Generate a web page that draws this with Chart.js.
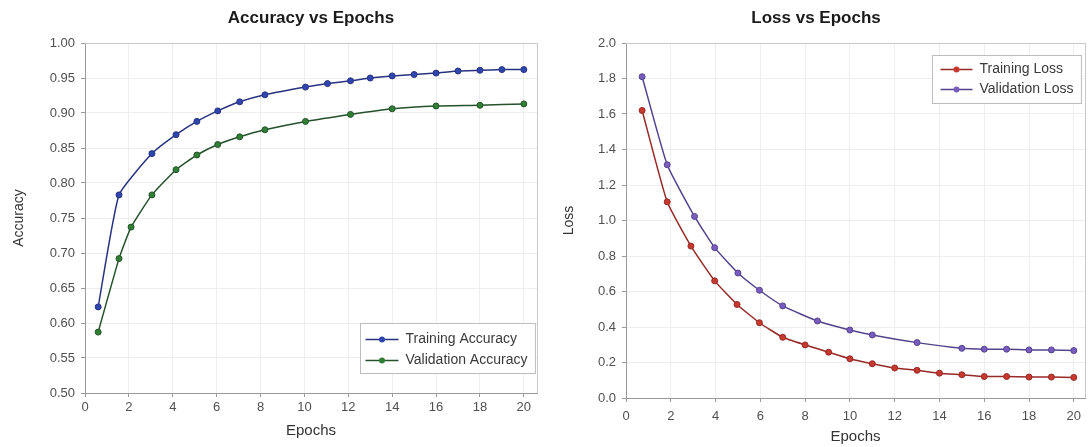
<!DOCTYPE html>
<html>
<head>
<meta charset="utf-8">
<script src="https://cdn.jsdelivr.net/npm/chart.js@4.4.1/dist/chart.umd.min.js"></script>
<style>
  html, body { margin: 0; padding: 0; background: #ffffff; }
  #wrap { display: flex; width: 1089px; height: 447px; }
  canvas { display: block; }
</style>
</head>
<body>
<div id="wrap">
  <canvas id="acc" width="545" height="447"></canvas>
  <canvas id="loss" width="544" height="447"></canvas>
</div>
<script>
// ---------- data ----------
const epochTicks = [0, 2, 4, 6, 8, 10, 12, 14, 16, 18, 20];
const accTicks = [0.50, 0.55, 0.60, 0.65, 0.70, 0.75, 0.80, 0.85, 0.90, 0.95, 1.00];
const lossTicks = [0.0, 0.2, 0.4, 0.6, 0.8, 1.0, 1.2, 1.4, 1.6, 1.8, 2.0];

const trainAccEpochs = [0.6, 1.55, 3.05, 4.15, 5.1, 6.05, 7.05, 8.2, 10.05, 11.05, 12.1, 13.0, 14.0, 15.0, 16.0, 17.0, 18.0, 19.0, 20.0];
const trainAcc       = [0.623, 0.783, 0.842, 0.869, 0.888, 0.903, 0.916, 0.926, 0.937, 0.942, 0.946, 0.950, 0.953, 0.955, 0.957, 0.960, 0.961, 0.962, 0.962];

const valAccEpochs = [0.6, 1.55, 2.1, 3.05, 4.15, 5.1, 6.05, 7.05, 8.2, 10.05, 12.1, 14.0, 16.0, 18.0, 20.0];
const valAcc       = [0.587, 0.692, 0.737, 0.783, 0.819, 0.840, 0.855, 0.866, 0.876, 0.888, 0.898, 0.906, 0.910, 0.911, 0.913];

const trainLossEpochs = [0.72, 1.84, 2.9, 3.96, 4.96, 5.96, 7.0, 8.0, 9.05, 10.0, 11.0, 12.0, 13.0, 14.0, 15.0, 16.0, 17.0, 18.0, 19.0, 20.0];
const trainLoss       = [1.62, 1.105, 0.856, 0.660, 0.527, 0.424, 0.342, 0.299, 0.258, 0.221, 0.193, 0.169, 0.156, 0.140, 0.131, 0.121, 0.121, 0.118, 0.118, 0.116];

const valLossEpochs = [0.72, 1.84, 3.06, 3.96, 5.0, 5.96, 7.0, 8.55, 10.0, 11.0, 13.0, 15.0, 16.0, 17.0, 18.0, 19.0, 20.0];
const valLoss       = [1.81, 1.314, 1.023, 0.847, 0.704, 0.607, 0.519, 0.434, 0.383, 0.355, 0.312, 0.280, 0.275, 0.275, 0.271, 0.271, 0.267];

// ---------- helpers ----------
const FONT = '"Liberation Sans", Arial, Helvetica, sans-serif';
const pts = (xs, ys) => xs.map((x, i) => ({ x: x, y: ys[i] }));

function plotBox() {
  return {
    id: 'plotBox',
    beforeDatasetsDraw(chart) {
      const a = chart.chartArea, ctx = chart.ctx;
      ctx.save();
      ctx.strokeStyle = '#c9c9c9';
      ctx.lineWidth = 1;
      ctx.beginPath();
      ctx.moveTo(a.left, a.top + 0.5);
      ctx.lineTo(a.right + 0.5, a.top + 0.5);
      ctx.lineTo(a.right + 0.5, a.bottom);
      ctx.stroke();
      ctx.restore();
    }
  };
}

function insideLegend(cfg) {
  return {
    id: 'insideLegend',
    afterDraw(chart) {
      const ctx = chart.ctx, a = chart.chartArea;
      const items = chart.data.datasets;
      ctx.save();
      ctx.font = '14px ' + FONT;
      const tw = Math.max(...items.map(d => ctx.measureText(d.label).width));
      const w = cfg.padL + cfg.lineLen + cfg.gap + tw + cfg.padR;
      const h = cfg.padT + (items.length - 1) * cfg.rowH + cfg.padB;
      const x = Math.round(a.right - cfg.right - w) + 0.5;
      const y = Math.round(cfg.corner === 'top' ? a.top + cfg.off : a.bottom - cfg.off - h) + 0.5;
      ctx.fillStyle = '#ffffff';
      ctx.fillRect(x, y, w, h);
      ctx.strokeStyle = '#bdbdbd';
      ctx.lineWidth = 1;
      ctx.strokeRect(x, y, w, h);
      items.forEach((d, i) => {
        const cy = y + cfg.padT + i * cfg.rowH;
        const x0 = x + cfg.padL, x1 = x0 + cfg.lineLen;
        ctx.strokeStyle = d.borderColor;
        ctx.lineWidth = d.borderWidth;
        ctx.beginPath();
        ctx.moveTo(x0, cy);
        ctx.lineTo(x1, cy);
        ctx.stroke();
        ctx.beginPath();
        ctx.arc((x0 + x1) / 2, cy, d.pointRadius, 0, Math.PI * 2);
        ctx.fillStyle = d.pointBackgroundColor;
        ctx.fill();
        ctx.fillStyle = '#3a3a3a';
        ctx.textBaseline = 'middle';
        ctx.textAlign = 'left';
        ctx.fillText(d.label, x1 + cfg.gap, cy);
      });
      ctx.restore();
    }
  };
}

function series(label, xs, ys, line, point) {
  return {
    label: label,
    data: pts(xs, ys),
    borderColor: line,
    backgroundColor: point,
    borderWidth: 1.5,
    pointRadius: 3,
    pointHoverRadius: 3,
    pointBackgroundColor: point,
    pointBorderColor: line,
    pointBorderWidth: 1,
    tension: 0.15,
    fill: false
  };
}

function makeChart(id, o) {
  return new Chart(document.getElementById(id), {
    type: 'line',
    data: { datasets: o.datasets },
    options: {
      responsive: false,
      animation: false,
      devicePixelRatio: 1,
      layout: { padding: { left: 0, right: o.padRight, top: 0, bottom: 0 } },
      plugins: {
        legend: { display: false },
        tooltip: { enabled: false },
        title: {
          display: true,
          text: o.title,
          fullSize: o.titleFull,
          color: '#1a1a1a',
          font: { family: FONT, size: 17, weight: 'bold' },
          padding: { top: 8, bottom: 14.6 }
        }
      },
      scales: {
        x: {
          type: 'linear',
          min: 0,
          max: o.xMax,
          afterBuildTicks: s => { s.ticks = epochTicks.map(v => ({ value: v })); },
          afterFit: s => { s.height = o.xHeight; },
          ticks: {
            color: '#505050',
            font: { family: FONT, size: 13 },
            padding: o.xTickPad,
            maxRotation: 0,
            callback: v => String(v)
          },
          grid: { color: '#eeeeee', lineWidth: 1, tickLength: 4, tickColor: '#9a9a9a' },
          border: { color: '#9a9a9a', width: 1 },
          title: {
            display: true,
            text: 'Epochs',
            color: '#333333',
            font: { family: FONT, size: 15 },
            padding: { top: 0, bottom: o.xTitlePad }
          }
        },
        y: {
          type: 'linear',
          min: o.yTicks[0],
          max: o.yTicks[o.yTicks.length - 1],
          afterBuildTicks: s => { s.ticks = o.yTicks.map(v => ({ value: v })); },
          afterFit: s => { s.width = o.yWidth; },
          ticks: {
            color: '#505050',
            font: { family: FONT, size: 13 },
            padding: 6,
            callback: v => Number(v).toFixed(o.yDec)
          },
          grid: { color: '#eeeeee', lineWidth: 1, tickLength: 4, tickColor: '#9a9a9a' },
          border: { color: '#9a9a9a', width: 1 },
          title: {
            display: true,
            text: o.yTitle,
            color: '#333333',
            font: { family: FONT, size: 14 },
            padding: { top: o.yTitlePad, bottom: 0 }
          }
        }
      }
    },
    plugins: [plotBox(), insideLegend(o.legend)]
  });
}

makeChart('acc', {
  title: 'Accuracy vs Epochs',
  titleFull: false,
  yTitle: 'Accuracy',
  yTicks: accTicks,
  yDec: 2,
  xMax: 20.6,
  padRight: 8,
  yWidth: 85,
  xHeight: 54,
  xTickPad: 3,
  xTitlePad: 7,
  yTitlePad: 11,
  legend: { corner: 'bottom', right: 2, off: 20, padL: 5, lineLen: 33, gap: 7, padR: 8, padT: 16, rowH: 21, padB: 13 },
  datasets: [
    series('Training Accuracy', trainAccEpochs, trainAcc, '#27337f', '#2f45b0'),
    series('Validation Accuracy', valAccEpochs, valAcc, '#24522a', '#2f8034')
  ]
});

makeChart('loss', {
  title: 'Loss vs Epochs',
  titleFull: true,
  yTitle: 'Loss',
  yTicks: lossTicks,
  yDec: 1,
  xMax: 20.5,
  padRight: 2,
  yWidth: 81,
  xHeight: 49,
  xTickPad: 7,
  xTitlePad: 1,
  yTitlePad: 16,
  legend: { corner: 'top', right: 4, off: 12, padL: 8, lineLen: 32, gap: 7, padR: 8, padT: 14, rowH: 20, padB: 14 },
  datasets: [
    series('Training Loss', trainLossEpochs, trainLoss, '#962a26', '#c8382e'),
    series('Validation Loss', valLossEpochs, valLoss, '#54438c', '#7a5cc0')
  ]
});
</script>
</body>
</html>
